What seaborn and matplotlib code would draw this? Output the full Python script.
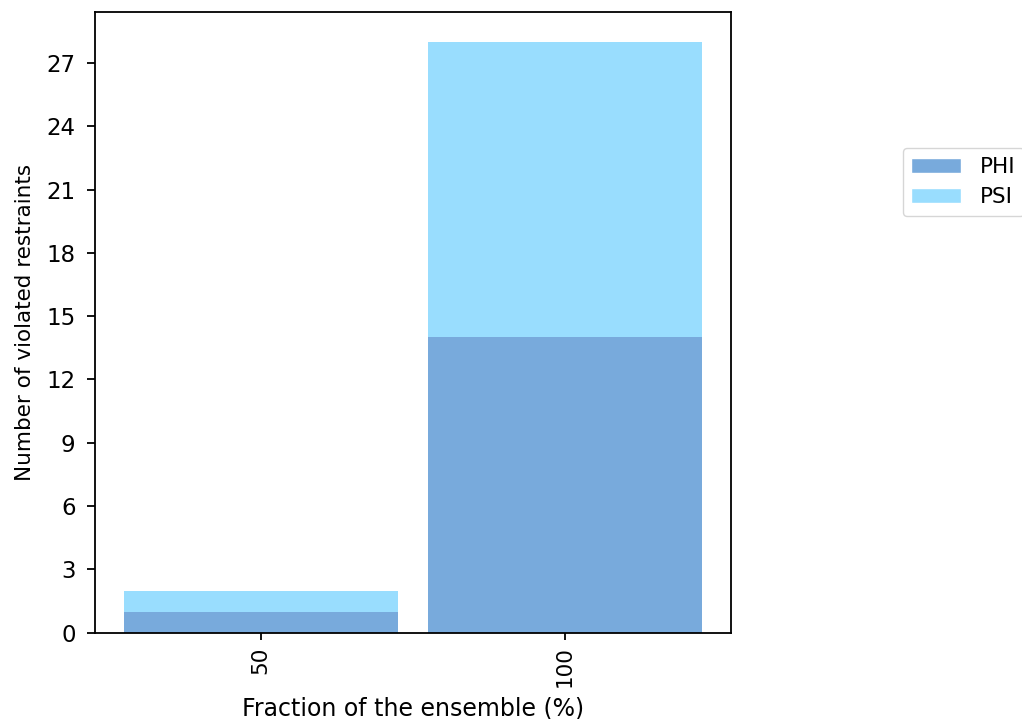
import pandas as pd
import numpy as np
import seaborn as sns
import matplotlib
matplotlib.use('Agg')
import matplotlib.pyplot as plt
from matplotlib.patches import Patch

# data
fractions = ['50', '100']
phi = [1, 14]
psi = [1, 14]

phi_color = '#78aadc'
psi_color = '#99ddfe'

sns.set_style('ticks')
plt.rcParams['font.family'] = ['DejaVu Sans']
plt.rcParams['text.color'] = 'black'
plt.rcParams['axes.labelcolor'] = 'black'
plt.rcParams['xtick.color'] = 'black'
plt.rcParams['ytick.color'] = 'black'

df = pd.DataFrame({'fraction': fractions, 'PHI': phi, 'PSI': psi})
df['total'] = df['PHI'] + df['PSI']

fig = plt.figure(figsize=(10.22, 7.19), dpi=100)
ax = fig.add_axes([0.093, 0.12, 0.622, 0.863])

#stacked: total first, PHI drawn over it
sns.barplot(x='fraction', y='total', data=df, order=fractions, color=psi_color,
            saturation=1, width=0.9, ax=ax, edgecolor='none', linewidth=0)
sns.barplot(x='fraction', y='PHI', data=df, order=fractions, color=phi_color,
            saturation=1, width=0.9, ax=ax, edgecolor='none', linewidth=0)

ax.set_xlim(-0.545, 1.545)
ax.set_ylim(0, 29.4)
ax.set_yticks(np.arange(0, 28, 3))
ax.tick_params(axis='y', labelsize=16.5, length=6, width=1.3, color='black', pad=8)
ax.tick_params(axis='x', labelsize=15.5, length=5, width=1.3, color='black', pad=5,
               labelrotation=90)
for s in ax.spines.values():
    s.set_linewidth(1.3)
    s.set_color('black')

ax.set_xlabel('Fraction of the ensemble (%)', fontsize=17)
ax.set_ylabel('Number of violated restraints', fontsize=15.5)
ax.xaxis.set_label_coords(0.5, -0.103)
ax.yaxis.set_label_coords(-0.094, 0.5)

handles = [Patch(facecolor=phi_color, label='PHI'),
           Patch(facecolor=psi_color, label='PSI')]
ax.legend(handles=handles, loc='upper left', bbox_to_anchor=(1.2705, 0.781),
          borderaxespad=0, fontsize=15.5, frameon=True, handlelength=2.3,
          handletextpad=0.9, labelspacing=0.5)

fig.savefig('out.png', dpi=100)
